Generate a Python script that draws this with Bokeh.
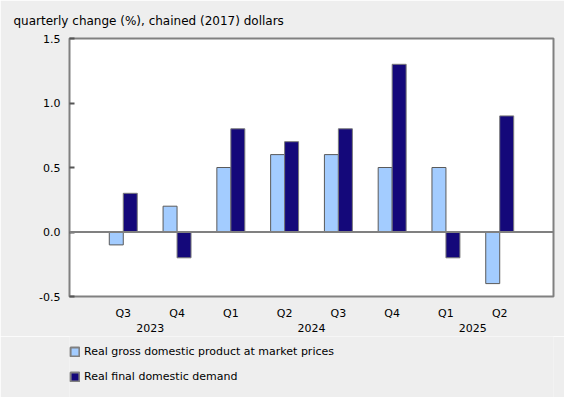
from bokeh.plotting import figure
from bokeh.layouts import column
from bokeh.models import (ColumnDataSource, Range1d, FixedTicker, LinearAxis, Span,
                          Legend, LegendItem, Title)
from bokeh.transform import dodge
from bokeh.embed import file_html
from bokeh.resources import INLINE

quarters = ["Q3", "Q4", "Q1", "Q2", "Q3", "Q4", "Q1", "Q2"]
years = ["2023", "2024", "2025"]
year_spans = [(1, 2), (3, 6), (7, 8)]
gdp = [-0.1, 0.2, 0.5, 0.6, 0.6, 0.5, 0.5, -0.4]
fdd = [0.3, -0.2, 0.8, 0.7, 0.8, 1.3, -0.2, 0.9]
series_names = ["Real gross domestic product at market prices", "Real final domestic demand"]
y_ticks = [-0.5, 0.0, 0.5, 1.0, 1.5]
y_tick_labels = ["-0.5", "0.0", "0.5", "1.0", "1.5"]
title_text = "quarterly change (%), chained (2017) dollars"

FONT = "DejaVu Sans"
GRAY = "#808080"
BG = "#eeeeee"
GDP_FILL, GDP_LINE = "#a3ccff", "#5a5a5a"
FDD_FILL, FDD_LINE = "#14087a", "#7a7a7a"

xs = list(range(1, len(quarters) + 1))
src = ColumnDataSource(dict(x=xs, gdp=gdp, fdd=fdd))

p = figure(width=564, height=336, output_backend="svg", toolbar_location=None,
           x_range=Range1d(0, len(quarters) + 1), y_range=Range1d(-0.5, 1.5),
           min_border_left=69, min_border_right=11, min_border_top=36, min_border_bottom=40,
           x_axis_type=None, y_axis_type=None)
p.background_fill_color = "white"
p.border_fill_color = BG
p.outline_line_color = GRAY
p.outline_line_width = 2
p.grid.visible = False

t = Title(text=title_text, text_font=FONT, text_font_size="12px", text_font_style="normal",
          text_color="#000000", align="left", offset=-56, standoff=22)
p.add_layout(t, "above")

zero = Span(location=0, dimension="width", line_color=GRAY, line_width=2)
p.add_layout(zero)

p.vbar(x=dodge("x", -0.13, range=p.x_range), top="gdp", bottom=0, width=0.26, source=src,
       fill_color=GDP_FILL, line_color=GDP_LINE, line_width=1)
p.vbar(x=dodge("x", 0.13, range=p.x_range), top="fdd", bottom=0, width=0.26, source=src,
       fill_color=FDD_FILL, line_color=FDD_LINE, line_width=1)

yaxis = LinearAxis(ticker=FixedTicker(ticks=y_ticks),
                   major_label_overrides={v: s for v, s in zip(y_ticks, y_tick_labels)})
yaxis.axis_line_color = None
yaxis.major_tick_in = 5
yaxis.major_tick_out = 0
yaxis.major_tick_line_color = "#555555"
yaxis.major_tick_line_width = 2
yaxis.minor_tick_line_color = None
yaxis.major_label_text_font = FONT
yaxis.major_label_text_font_size = "11px"
yaxis.major_label_text_color = "#000000"
yaxis.major_label_standoff = 9
p.add_layout(yaxis, "left")


def cat_axis(ticks, labels, standoff):
    ax = LinearAxis(ticker=FixedTicker(ticks=ticks),
                    major_label_overrides={a: b for a, b in zip(ticks, labels)})
    ax.axis_line_color = None
    ax.major_tick_line_color = None
    ax.major_tick_in = 0
    ax.major_tick_out = 0
    ax.minor_tick_line_color = None
    ax.minor_tick_in = 0
    ax.minor_tick_out = 0
    ax.major_label_text_font = FONT
    ax.major_label_text_font_size = "11px"
    ax.major_label_text_color = "#000000"
    ax.major_label_standoff = standoff
    return ax


p.add_layout(cat_axis(xs, quarters, 10), "below")
ycent = [(a + b) / 2 for a, b in year_spans]
p.add_layout(cat_axis(ycent, years, 1), "below")

# legend panel (hidden renderers only supply the legend swatches)
lg = figure(width=564, height=61, output_backend="svg", toolbar_location=None,
            x_range=Range1d(0, 1), y_range=Range1d(0, 1),
            min_border_left=0, min_border_right=0, min_border_top=0, min_border_bottom=0,
            x_axis_type=None, y_axis_type=None)
lg.background_fill_color = BG
lg.border_fill_color = BG
lg.outline_line_color = None
lg.grid.visible = False
g1 = lg.vbar(x="x", top="gdp", width=0.26, source=src, fill_color=GDP_FILL,
             line_color=GRAY, line_width=2, visible=False)
g2 = lg.vbar(x="x", top="fdd", width=0.26, source=src, fill_color=FDD_FILL,
             line_color=GRAY, line_width=2, visible=False)
legend = Legend(items=[LegendItem(label=series_names[0], renderers=[g1]),
                       LegendItem(label=series_names[1], renderers=[g2])],
                location=(0, 14), orientation="vertical",
                glyph_width=11, glyph_height=11, label_standoff=4,
                label_text_font=FONT, label_text_font_size="11px", label_text_color="#000000",
                label_height=11, spacing=12, padding=0, margin=0,
                background_fill_alpha=0, border_line_color=None)
lg.add_layout(legend)

layout = column(p, lg, spacing=0)
html = file_html(layout, INLINE)
html = html.replace("<body", '<body style="background-color:#eeeeee;"', 1)
open("out.html", "w").write(html)
